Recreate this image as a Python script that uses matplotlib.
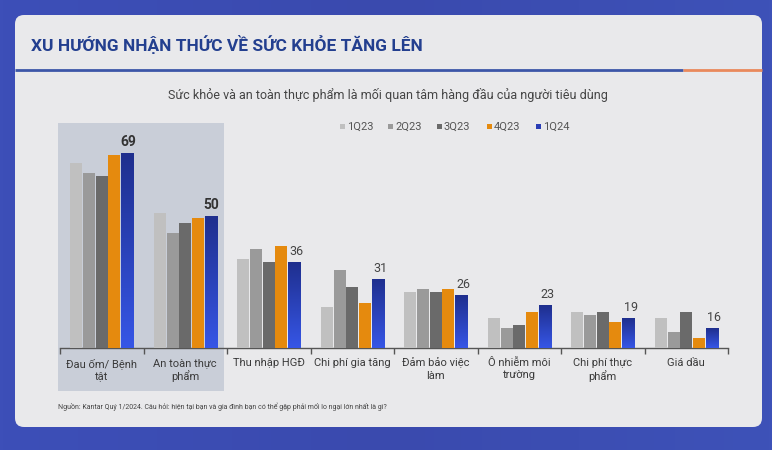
import matplotlib
matplotlib.use("Agg")
import matplotlib.pyplot as plt
import numpy as np
from matplotlib.patches import FancyBboxPatch, Rectangle
from matplotlib.colors import LinearSegmentedColormap

plt.rcParams['font.family'] = ['Roboto', 'DejaVu Sans']

categories = ["Đau ốm/ Bệnh\ntật", "An toàn thực\nphẩm", "Thu nhập HGĐ", "Chi phí gia tăng",
              "Đảm bảo việc\nlàm", "Ô nhiễm môi\ntrường", "Chi phí thực\nphẩm", "Giá dầu"]
series_names = ["1Q23", "2Q23", "3Q23", "4Q23", "1Q24"]
q1_23 = [66, 51, 37, 22.5, 27, 19, 21, 19]
q2_23 = [63, 45, 40, 33.5, 28, 16, 20, 15]
q3_23 = [62, 48, 36, 28.5, 27, 17, 21, 21]
q4_23 = [68.5, 49.5, 41, 23.5, 28, 21, 18, 13]
q1_24 = [69, 50, 36, 31, 26, 23, 19, 16]
series = [q1_23, q2_23, q3_23, q4_23, q1_24]
colors = ["#c0c0c0", "#9a9a9a", "#6a6a6a", "#e58a0e", "#2a3db5"]

W, H = 772, 450
fig = plt.figure(figsize=(W / 100, H / 100), dpi=100)
fig.patch.set_facecolor("#3b4cb2")

# background / decoration axes in pixel coordinates
bg = fig.add_axes([0, 0, 1, 1])
bg.set_xlim(0, W)
bg.set_ylim(H, 0)
bg.axis("off")
grad = np.linspace(0, 1, 256).reshape(1, -1)
bgcmap = LinearSegmentedColormap.from_list("bgc", ["#3d4fb8", "#3a4aae", "#3e52b8"])
bg.imshow(grad, extent=[0, W, H, 0], cmap=bgcmap, aspect="auto", zorder=0)
card = FancyBboxPatch((15, 15), 747, 412, boxstyle="round,pad=0,rounding_size=9",
                      facecolor="#e9e9eb", edgecolor="none", zorder=1)
bg.add_patch(card)
bg.plot([15, 683], [70, 70], color="#3d56a8", lw=2, zorder=2, solid_capstyle="butt")
bg.plot([683, 762], [70, 70], color="#e9895c", lw=2, zorder=2, solid_capstyle="butt")
bg.text(31, 45, "XU HƯỚNG NHẬN THỨC VỀ SỨC KHỎE TĂNG LÊN", fontsize=12.5, fontweight="bold",
        color="#233f8f", va="center", ha="left", zorder=3)
bg.text(388, 95, "Sức khỏe và an toàn thực phẩm là mối quan tâm hàng đầu của người tiêu dùng",
        fontsize=9, color="#444444", va="center", ha="center", zorder=3)
bg.add_patch(Rectangle((58, 123), 166, 268, facecolor="#c9ced8", edgecolor="none", zorder=1.5))
bg.text(58, 407, "Nguồn: Kantar Quý 1/2024. Câu hỏi: hiện tại bạn và gia đình bạn có thể gặp phải mối lo ngại lớn nhất là gì?",
        fontsize=5, color="#444444", va="center", ha="left", zorder=3)

# legend
leg_x = [340, 388, 437, 487, 536]
for lx, name, c in zip(leg_x, series_names, colors):
    bg.add_patch(Rectangle((lx, 124), 5, 5, facecolor=c, edgecolor="none", zorder=3))
    bg.text(lx + 7, 127, name, fontsize=8, color="#555555", va="center", ha="left", zorder=3)

# chart axes
y0, ppu = 10, 3.3
top_px, base_px, left_px, right_px = 123, 348, 60, 728
ax = fig.add_axes([left_px / W, (H - base_px) / H, (right_px - left_px) / W, (base_px - top_px) / H])
ax.set_facecolor("none")

x = np.arange(len(categories))
step, bw = 0.152, 0.145
bcmap = LinearSegmentedColormap.from_list("bl", ["#3656e6", "#1f2f8e"])
for i, (vals, c) in enumerate(zip(series, colors)):
    pos = x + (i - 2) * step
    bars = ax.bar(pos, vals, width=bw, bottom=0, color=c, zorder=3)
    if i == 4:
        for b in bars:
            bx, by = b.get_x(), b.get_height()
            im = ax.imshow(np.linspace(0, 1, 100).reshape(-1, 1), extent=[bx, bx + bw, y0, by],
                           origin="lower", cmap=bcmap, aspect="auto", zorder=3.5)
            im.set_clip_path(b)
        for p, v in zip(pos, vals):
            big = v >= 50
            ax.text(p + (0.01 if big else 0.03), v + 1.2, f"{v:g}", ha="center", va="bottom",
                    fontsize=10 if big else 9, fontweight="bold" if big else "normal",
                    color="#333333" if big else "#444444", zorder=4)
ax.set_xlim(-0.5, len(categories) - 0.5)
ax.set_ylim(y0, y0 + (base_px - top_px) / ppu)

for s in ["top", "right", "left"]:
    ax.spines[s].set_visible(False)
ax.spines["bottom"].set_color("#555555")
ax.spines["bottom"].set_linewidth(1)
ax.set_yticks([])
ax.set_xticks(x)
ax.set_xticklabels(categories, fontsize=8, color="#3a3a3a", linespacing=1.25)
ax.tick_params(axis="x", which="major", length=0, pad=7)
ax.set_xticks(np.arange(-0.5, len(categories)), minor=True)
ax.tick_params(axis="x", which="minor", length=4, width=1, color="#555555")

fig.savefig("out.png", dpi=100)
